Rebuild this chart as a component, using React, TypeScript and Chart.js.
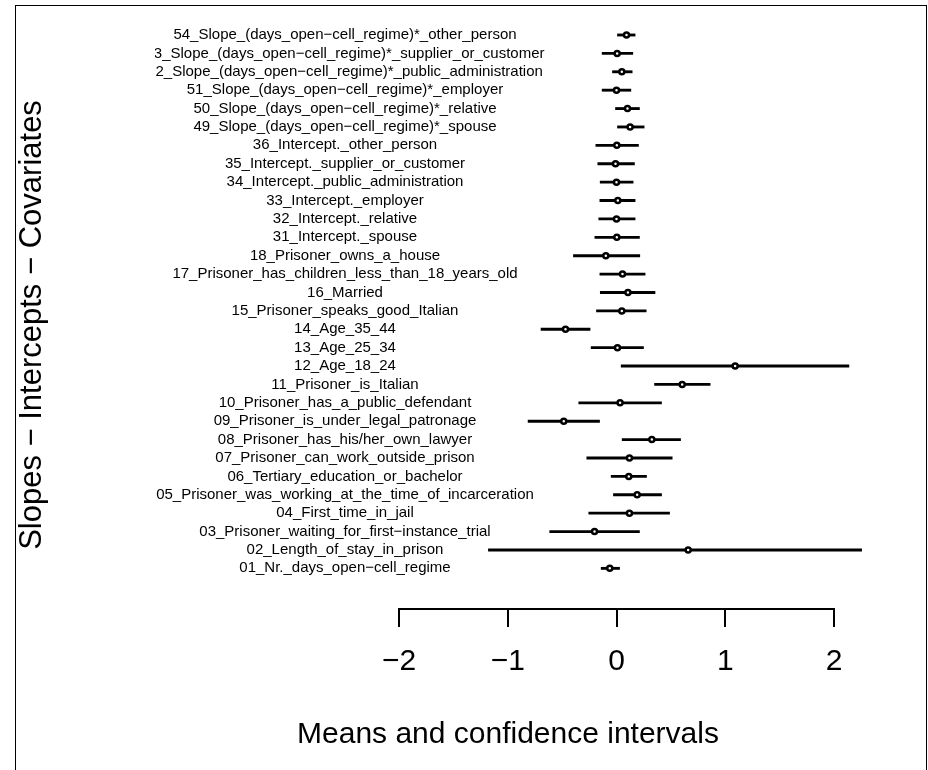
import React, { useEffect, useRef } from "react";
import { Chart, registerables } from "chart.js";

Chart.register(...registerables);

const rowLabels: string[] = [
  "54_Slope_(days_open\u2212cell_regime)*_other_person",
  "53_Slope_(days_open\u2212cell_regime)*_supplier_or_customer",
  "52_Slope_(days_open\u2212cell_regime)*_public_administration",
  "51_Slope_(days_open\u2212cell_regime)*_employer",
  "50_Slope_(days_open\u2212cell_regime)*_relative",
  "49_Slope_(days_open\u2212cell_regime)*_spouse",
  "36_Intercept._other_person",
  "35_Intercept._supplier_or_customer",
  "34_Intercept._public_administration",
  "33_Intercept._employer",
  "32_Intercept._relative",
  "31_Intercept._spouse",
  "18_Prisoner_owns_a_house",
  "17_Prisoner_has_children_less_than_18_years_old",
  "16_Married",
  "15_Prisoner_speaks_good_Italian",
  "14_Age_35_44",
  "13_Age_25_34",
  "12_Age_18_24",
  "11_Prisoner_is_Italian",
  "10_Prisoner_has_a_public_defendant",
  "09_Prisoner_is_under_legal_patronage",
  "08_Prisoner_has_his/her_own_lawyer",
  "07_Prisoner_can_work_outside_prison",
  "06_Tertiary_education_or_bachelor",
  "05_Prisoner_was_working_at_the_time_of_incarceration",
  "04_First_time_in_jail",
  "03_Prisoner_waiting_for_first\u2212instance_trial",
  "02_Length_of_stay_in_prison",
  "01_Nr._days_open\u2212cell_regime",
];

const means: number[] = [
  0.092, 0.006, 0.049, 0.0, 0.101, 0.125, 0.003, -0.009, 0.0, 0.012, 0.0, 0.003,
  -0.098, 0.055, 0.105, 0.049, -0.469, 0.009, 1.091, 0.604, 0.033, -0.485, 0.325,
  0.119, 0.113, 0.19, 0.119, -0.202, 0.659, -0.062,
];

const lower: number[] = [
  0.009, -0.132, -0.037, -0.132, -0.009, 0.0, -0.19, -0.172, -0.15, -0.153, -0.163,
  -0.199, -0.396, -0.153, -0.149, -0.184, -0.694, -0.233, 0.043, 0.35, -0.347,
  -0.813, 0.052, -0.273, -0.049, -0.028, -0.255, -0.614, -1.178, -0.141,
];

const upper: number[] = [
  0.171, 0.15, 0.144, 0.132, 0.211, 0.254, 0.202, 0.165, 0.153, 0.171, 0.171, 0.211,
  0.214, 0.263, 0.354, 0.273, -0.243, 0.248, 2.137, 0.861, 0.414, -0.156, 0.589,
  0.512, 0.276, 0.414, 0.488, 0.211, 2.254, 0.028,
];

const xTickValues: number[] = [-2, -1, 0, 1, 2];

const xTitle = "Means and confidence intervals";
const yTitle = "Slopes \u2212 Intercepts \u2212 Covariates";

const FAMILY = "'Liberation Sans', Arial, Helvetica, sans-serif";

export default function App() {
  const ref = useRef<HTMLCanvasElement | null>(null);

  useEffect(() => {
    const canvas = ref.current;
    if (!canvas) return;
    const mctx = canvas.getContext("2d")!;
    mctx.font = `15px ${FAMILY}`;
    const widest = Math.max(...rowLabels.map((l) => mctx.measureText(l).width));
    const labelCenterX = 345;
    const plotLeft = 399;
    // mirrored ticks: x = right + padding + widest/2
    const yTickPadding = labelCenterX - plotLeft - widest / 2;

    const framePlugin = {
      id: "frame",
      beforeDraw(chart: any) {
        const c = chart.ctx;
        c.save();
        c.strokeStyle = "#000";
        c.lineWidth = 1;
        c.strokeRect(15.5, 5.5, 911, 820);
        c.restore();
      },
    };

    const clipPlugin = {
      id: "labelClip",
      afterDatasetsDraw(chart: any) {
        const c = chart.ctx;
        c.save();
        c.beginPath();
        c.rect(155, 0, chart.width - 155, chart.height);
        c.clip();
      },
      afterDraw(chart: any) {
        chart.ctx.restore();
      },
    };

    const barData = rowLabels.map((_, i) => ({ x: [lower[i], upper[i]], y: i }));
    const pointData = rowLabels.map((_, i) => ({ x: means[i], y: i }));

    const chart = new Chart(canvas, {
      type: "bar",
      data: {
        datasets: [
          {
            type: "scatter",
            indexAxis: "x",
            data: pointData as any,
            order: 0,
            pointRadius: 2.5,
            pointBorderWidth: 2.5,
            pointBackgroundColor: "#fff",
            pointBorderColor: "#000",
            showLine: false,
            clip: false as any,
          } as any,
          {
            type: "bar",
            data: barData as any,
            order: 1,
            backgroundColor: "#000",
            borderWidth: 0,
            barThickness: 2.2,
            borderSkipped: false,
            clip: false as any,
          } as any,
        ],
      },
      options: {
        indexAxis: "y",
        animation: false,
        responsive: false,
        devicePixelRatio: 1,
        layout: { padding: { left: 182, right: 94, top: 41, bottom: 0 } },
        plugins: {
          legend: { display: false },
          tooltip: { enabled: false },
          title: {
            display: true,
            position: "bottom",
            text: xTitle,
            color: "#000",
            font: { family: FAMILY, size: 30, weight: "normal" },
            padding: { top: 0, bottom: 17 },
            fullSize: true,
          },
        },
        scales: {
          x: {
            type: "linear",
            position: "bottom",
            min: -2,
            max: 2,
            offset: false,
            afterBuildTicks: (scale: any) => {
              scale.ticks = xTickValues.map((v) => ({ value: v }));
            },
            afterFit: (scale: any) => {
              scale.height = 108;
            },
            grid: {
              display: true,
              drawOnChartArea: false,
              drawTicks: true,
              tickLength: 18,
              color: "#000",
              lineWidth: 2,
              offset: false,
            },
            border: { display: true, color: "#000", width: 2 },
            ticks: {
              color: "#000",
              font: { family: FAMILY, size: 30 },
              padding: 17,
              autoSkip: false,
              maxRotation: 0,
              callback: (v: any) => (v < 0 ? "\u2212" + Math.abs(v) : String(v)),
            },
          },
          y: {
            type: "linear",
            position: "left",
            reverse: true,
            min: 0.326,
            max: 31.21,
            offset: false,
            afterBuildTicks: (scale: any) => {
              scale.ticks = rowLabels.map((_, i) => ({ value: i }));
            },
            afterFit: (scale: any) => {
              scale.width = 217;
            },
            grid: { display: false, offset: false },
            border: { display: false },
            title: {
              display: true,
              text: yTitle,
              color: "#000",
              font: { family: FAMILY, size: 31 },
              padding: { top: -168, bottom: 0 },
            },
            ticks: {
              z: 1,
              mirror: true,
              color: "#000",
              font: { family: FAMILY, size: 15 },
              crossAlign: "center",
              padding: yTickPadding,
              autoSkip: false,
              callback: (v: any) => rowLabels[v] ?? "",
            },
          },
        },
      },
      plugins: [framePlugin, clipPlugin],
    } as any);

    return () => {
      chart.destroy();
    };
  }, []);

  return (
    <div style={{ position: "absolute", left: 0, top: 0, width: 928, height: 770, background: "#fff" }}>
      <canvas ref={ref} width={928} height={770} style={{ display: "block", width: 928, height: 770 }} />
    </div>
  );
}
